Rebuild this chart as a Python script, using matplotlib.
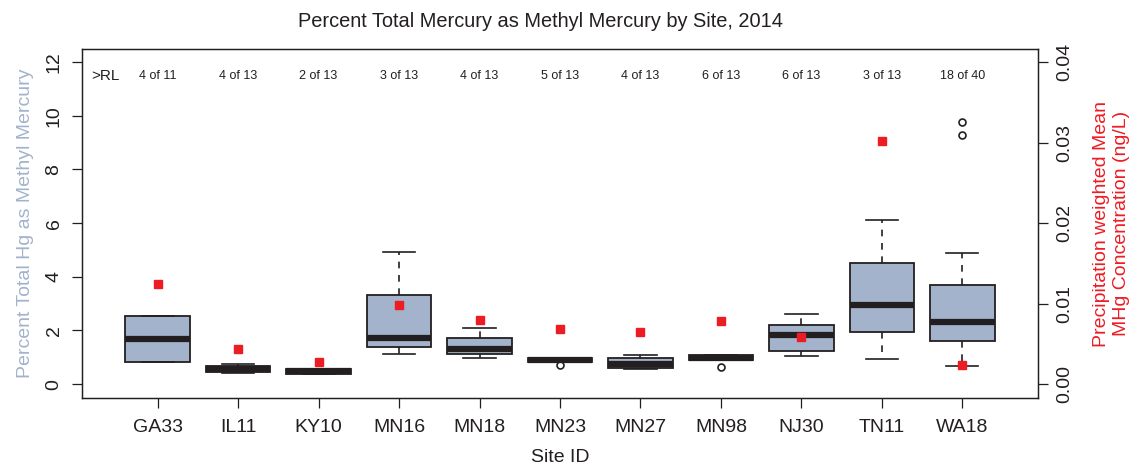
import numpy as np
import matplotlib
matplotlib.use("Agg")
import matplotlib.pyplot as plt

plt.rcParams['font.family'] = ['Liberation Sans', 'DejaVu Sans']

# percent of total Hg as MeHg, box summary per site
sites = ['GA33', 'IL11', 'KY10', 'MN16', 'MN18', 'MN23', 'MN27', 'MN98', 'NJ30', 'TN11', 'WA18']
q1 = [0.82, 0.46, 0.38, 1.40, 1.12, 0.82, 0.60, 0.89, 1.24, 1.93, 1.60]
med = [1.68, 0.56, 0.48, 1.70, 1.32, 0.90, 0.75, 0.98, 1.84, 2.93, 2.30]
q3 = [2.53, 0.67, 0.57, 3.33, 1.73, 0.98, 0.96, 1.08, 2.19, 4.52, 3.70]
whislo = [0.82, 0.42, 0.38, 1.13, 0.96, 0.82, 0.56, 0.89, 1.06, 0.93, 0.68]
whishi = [2.53, 0.76, 0.57, 4.94, 2.10, 0.98, 1.09, 1.08, 2.61, 6.11, 4.87]
fliers = [[], [], [], [], [], [0.71], [], [0.63], [], [], [9.27, 9.77]]

# precipitation weighted mean MeHg concentration (ng/L)
pw_mean = [0.0124, 0.0043, 0.0028, 0.0098, 0.0080, 0.0068, 0.0065, 0.0079, 0.0058, 0.0302, 0.0024]

# samples above reporting limit
above_rl = ['4 of 11', '4 of 13', '2 of 13', '3 of 13', '4 of 13', '5 of 13',
            '4 of 13', '6 of 13', '6 of 13', '3 of 13', '18 of 40']

box_fill = '#a3b3cb'
dark = '#231f20'
red = '#ed1c24'

stats = []
for i in range(len(sites)):
    stats.append(dict(label=sites[i], q1=q1[i], med=med[i], q3=q3[i],
                      whislo=whislo[i], whishi=whishi[i], fliers=fliers[i]))

fig = plt.figure(figsize=(11.3, 4.65), dpi=100)
ax = fig.add_axes([0.0726, 0.144, 0.846, 0.7506])

pos = np.arange(1, len(sites) + 1)
ax.bxp(stats, positions=pos, widths=0.8, patch_artist=True,
       boxprops=dict(facecolor=box_fill, edgecolor=dark, linewidth=1.3),
       medianprops=dict(color=dark, linewidth=4.5, solid_capstyle='butt'),
       whiskerprops=dict(color=dark, linewidth=1.2, linestyle=(0, (4, 4))),
       capprops=dict(color=dark, linewidth=1.2),
       capwidths=0.4,
       flierprops=dict(marker='o', markersize=5, markerfacecolor='none',
                       markeredgecolor=dark, markeredgewidth=1.2))

ax.set_xlim(0.06, 11.94)
ax.set_ylim(-0.52, 12.49)
ax.set_yticks(range(0, 13, 2))
ax.set_xticks(pos)
ax.set_xticklabels(sites, fontsize=14, color=dark)
ax.tick_params(axis='x', length=7, width=0.9, pad=8, colors=dark, labelcolor=dark)
ax.tick_params(axis='y', length=7, width=0.9, pad=7, labelsize=14, labelrotation=90,
               colors=dark, labelcolor=dark)
for lbl in ax.get_yticklabels():
    lbl.set_va('center')
for s in ax.spines.values():
    s.set_color(dark)
    s.set_linewidth(1.0)

ax.set_xlabel('Site ID', fontsize=14, color=dark, labelpad=9.5)
ax.set_ylabel('Percent Total Hg as Methyl Mercury', fontsize=14, color=box_fill, labelpad=8)
ax.set_title('Percent Total Mercury as Methyl Mercury by Site, 2014', fontsize=14.4,
             color=dark, pad=16, x=0.48)

# counts above reporting limit along the top
ax.text(0.17, 11.5, '>RL', fontsize=11, color=dark, ha='left', va='center')
for p, t in zip(pos, above_rl):
    ax.text(p, 11.5, t, fontsize=9, color=dark, ha='center', va='center')

# secondary axis for the red concentration markers
ax2 = ax.twinx()
ax2.set_ylim(-0.52 * 0.04 / 12, 12.49 * 0.04 / 12)
ax2.plot(pos, pw_mean, linestyle='none', marker='s', markersize=6,
         color=red, zorder=5)
ax2.set_yticks([0.0, 0.01, 0.02, 0.03, 0.04])
ax2.set_yticklabels(['0.00', '0.01', '0.02', '0.03', '0.04'])
ax2.tick_params(axis='y', length=7, width=0.9, pad=6, labelsize=14, labelrotation=90,
                colors=dark, labelcolor=dark)
for lbl in ax2.get_yticklabels():
    lbl.set_va('center')
for s in ax2.spines.values():
    s.set_color(dark)
ax2.set_ylabel('Precipitation weighted Mean\nMHg Concentration (ng/L)', fontsize=14,
               color=red, labelpad=14, linespacing=1.3)

fig.savefig('out.png', dpi=100)
